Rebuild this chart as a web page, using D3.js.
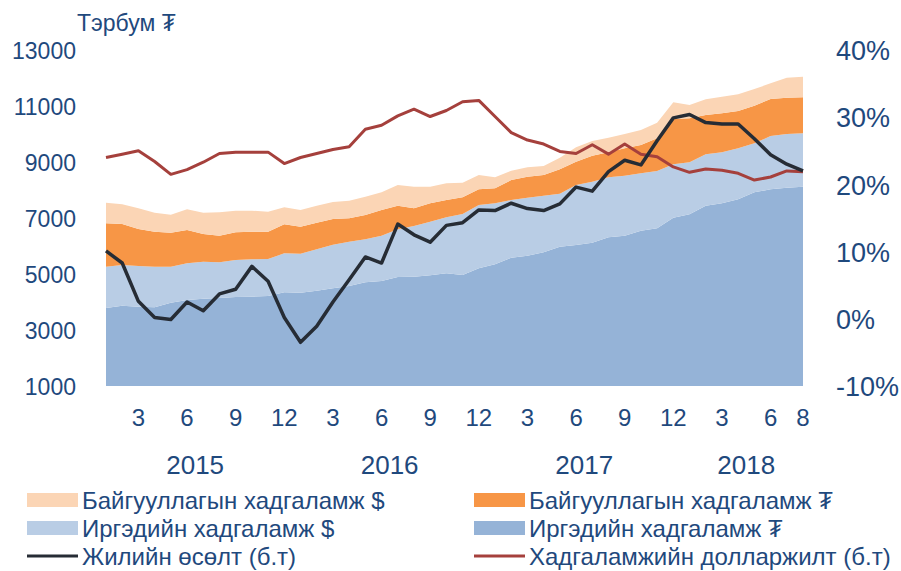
<!DOCTYPE html>
<html>
<head>
<meta charset="utf-8">
<script src="https://cdn.jsdelivr.net/npm/d3@7"></script>
<style>
  body { margin: 0; background: #fff; }
  svg text { font-family: "Liberation Sans", Arial, "DejaVu Sans", sans-serif; fill: #1f497d; }
</style>
</head>
<body>
<div id="chart"></div>
<script>
// months Jan 2015 .. Aug 2018
const years = [2015, 2016, 2017, 2018];
const monthsInYear = [12, 12, 12, 8];
const periods = [];
years.forEach((y, k) => {
  for (let m = 1; m <= monthsInYear[k]; m++) periods.push(y + '-' + m);
});

// tick labels under the axis (month number)
const tickMonths = ['2015-3', '2015-6', '2015-9', '2015-12', '2016-3', '2016-6', '2016-9', '2016-12',
  '2017-3', '2017-6', '2017-9', '2017-12', '2018-3', '2018-6', '2018-8'];
const tickLabels = ['3', '6', '9', '12', '3', '6', '9', '12', '3', '6', '9', '12', '3', '6', '8'];

// deposits, billion MNT
const householdMnt = [3785, 3869, 3833, 3810, 3976, 4071, 4119, 4143, 4178, 4190, 4214, 4345,
  4333, 4404, 4495, 4571, 4703, 4750, 4892, 4904, 4952, 5024, 4964, 5202,
  5345, 5583, 5654, 5774, 5974, 6035, 6118, 6309, 6369, 6547, 6630, 7011,
  7131, 7440, 7524, 7667, 7917, 8024, 8083, 8118];
const householdUsd = [1477, 1452, 1452, 1452, 1286, 1310, 1321, 1273, 1322, 1333, 1321, 1393,
  1393, 1477, 1550, 1583, 1535, 1619, 1703, 1810, 1916, 2000, 2178, 2262,
  2179, 2059, 2072, 2023, 1896, 2143, 2179, 2143, 2142, 2048, 2048, 1905,
  1857, 1834, 1821, 1821, 1750, 1904, 1916, 1906];
const orgMnt = [1547, 1464, 1321, 1250, 1214, 1190, 988, 953, 988, 989, 977, 1036,
  964, 952, 920, 834, 869, 916, 845, 631, 656, 618, 596, 560,
  536, 714, 749, 738, 870, 833, 928, 893, 977, 1011, 1167, 1619,
  1571, 1403, 1393, 1332, 1343, 1321, 1297, 1286];
const orgUsd = [738, 703, 739, 678, 642, 738, 762, 833, 774, 750, 714, 607,
  595, 607, 605, 629, 653, 632, 738, 773, 594, 596, 522, 511,
  392, 334, 335, 321, 410, 512, 524, 523, 511, 536, 559, 596,
  476, 561, 593, 596, 596, 560, 714, 736];

// right axis series, percent
const growth = [10.1, 8.3, 2.6, 0.2, -0.1, 2.5, 1.2, 3.7, 4.4, 7.8, 5.6, 0.2,
  -3.5, -1.1, 2.5, 5.8, 9.2, 8.3, 14.1, 12.5, 11.4, 13.9, 14.3, 16.2,
  16.1, 17.2, 16.4, 16.1, 17.1, 19.6, 19.0, 21.9, 23.6, 22.9, 26.5, 29.9,
  30.4, 29.2, 29.0, 29.0, 26.8, 24.4, 23.0, 22.0];
const dollarization = [24.0, 24.5, 25.0, 23.4, 21.5, 22.2, 23.3, 24.6, 24.8, 24.8, 24.8, 23.1,
  24.0, 24.6, 25.2, 25.6, 28.2, 28.8, 30.2, 31.2, 30.1, 31.0, 32.3, 32.5,
  30.1, 27.7, 26.6, 26.0, 24.9, 24.6, 25.9, 24.5, 26.0, 24.5, 24.1, 22.6,
  21.8, 22.3, 22.1, 21.65, 20.65, 21.1, 22.0, 21.9];

const leftTicks = [1000, 3000, 5000, 7000, 9000, 11000, 13000];
const rightTicks = [-10, 0, 10, 20, 30, 40];

const layerKeys = ['householdMnt', 'householdUsd', 'orgMnt', 'orgUsd'];
const layerColors = { householdMnt: '#95b3d7', householdUsd: '#b9cde5', orgMnt: '#f79646', orgUsd: '#fbd5b5' };

const dims = { width: 901, height: 571 };
const plot = { left: 106, right: 803, top: 50, bottom: 386 };

const svg = d3.select('#chart').append('svg')
  .attr('width', dims.width)
  .attr('height', dims.height);

const xScale = d3.scalePoint().domain(periods).range([plot.left, plot.right]);
const yLeft = d3.scaleLinear().domain([1000, 13000]).range([plot.bottom, plot.top]);
const yRight = d3.scaleLinear().domain([-10, 40]).range([plot.bottom, plot.top]);

const table = periods.map((p, i) => ({
  period: p,
  householdMnt: householdMnt[i],
  householdUsd: householdUsd[i],
  orgMnt: orgMnt[i],
  orgUsd: orgUsd[i]
}));

const stacked = d3.stack().keys(layerKeys)(table);

const area = d3.area()
  .x(d => xScale(d.data.period))
  .y0(d => yLeft(Math.max(d[0], 1000)))
  .y1(d => yLeft(d[1]));

svg.append('g').selectAll('path')
  .data(stacked)
  .join('path')
  .attr('fill', d => layerColors[d.key])
  .attr('d', area);

const line = (vals) => d3.line()
  .x((d, i) => xScale(periods[i]))
  .y(d => yRight(d))(vals);

svg.append('path')
  .attr('d', line(dollarization))
  .attr('fill', 'none')
  .attr('stroke', '#a5403c')
  .attr('stroke-width', 3)
  .attr('stroke-linejoin', 'round');

svg.append('path')
  .attr('d', line(growth))
  .attr('fill', 'none')
  .attr('stroke', '#262c35')
  .attr('stroke-width', 3.5)
  .attr('stroke-linejoin', 'round');

// left axis
const leftAxis = svg.append('g')
  .attr('transform', 'translate(76,0)')
  .call(d3.axisLeft(yLeft).tickValues(leftTicks).tickSize(0).tickPadding(0).tickFormat(d3.format('d')));
leftAxis.select('.domain').remove();
leftAxis.selectAll('text').attr('font-size', 23).attr('dy', '0.36em');

// right axis
const rightAxis = svg.append('g')
  .attr('transform', 'translate(836,0)')
  .call(d3.axisRight(yRight).tickValues(rightTicks).tickSize(0).tickPadding(0).tickFormat(d => d + '%'));
rightAxis.select('.domain').remove();
rightAxis.selectAll('text').attr('font-size', 27).attr('dy', '0.36em');

svg.append('text')
  .attr('x', 77)
  .attr('y', 31)
  .attr('font-size', 23)
  .text('Тэрбум ₮');

// month ticks
svg.append('g').selectAll('text')
  .data(tickMonths)
  .join('text')
  .attr('x', d => xScale(d))
  .attr('y', 426)
  .attr('text-anchor', 'middle')
  .attr('font-size', 24)
  .text((d, i) => tickLabels[i]);

// year labels centred under their months
svg.append('g').selectAll('text')
  .data(years)
  .join('text')
  .attr('x', y => {
    const ps = periods.filter(p => p.startsWith(y + '-'));
    return (xScale(ps[0]) + xScale(ps[ps.length - 1])) / 2;
  })
  .attr('y', 474)
  .attr('text-anchor', 'middle')
  .attr('font-size', 26)
  .text(d => d);

// legend
const legendItems = [
  { label: 'Байгууллагын хадгаламж $', color: layerColors.orgUsd, type: 'rect' },
  { label: 'Байгууллагын хадгаламж ₮', color: layerColors.orgMnt, type: 'rect' },
  { label: 'Иргэдийн хадгаламж $', color: layerColors.householdUsd, type: 'rect' },
  { label: 'Иргэдийн хадгаламж ₮', color: layerColors.householdMnt, type: 'rect' },
  { label: 'Жилийн өсөлт (б.т)', color: '#262c35', type: 'line' },
  { label: 'Хадгаламжийн долларжилт (б.т)', color: '#a5403c', type: 'line' }
];

const keyItem = svg.append('g').selectAll('g')
  .data(legendItems)
  .join('g')
  .attr('transform', (d, i) => `translate(${i % 2 ? 474 : 27}, ${500 + Math.floor(i / 2) * 28})`);

keyItem.filter(d => d.type === 'rect').append('rect')
  .attr('x', 0).attr('y', -7)
  .attr('width', 51).attr('height', 14)
  .attr('fill', d => d.color);

keyItem.filter(d => d.type === 'line').append('line')
  .attr('x1', 0).attr('x2', 51)
  .attr('y1', 0).attr('y2', 0)
  .attr('stroke', d => d.color)
  .attr('stroke-width', 3);

keyItem.append('text')
  .attr('x', 55)
  .attr('y', 0)
  .attr('dy', '0.36em')
  .attr('font-size', 24)
  .text(d => d.label);
</script>
</body>
</html>
